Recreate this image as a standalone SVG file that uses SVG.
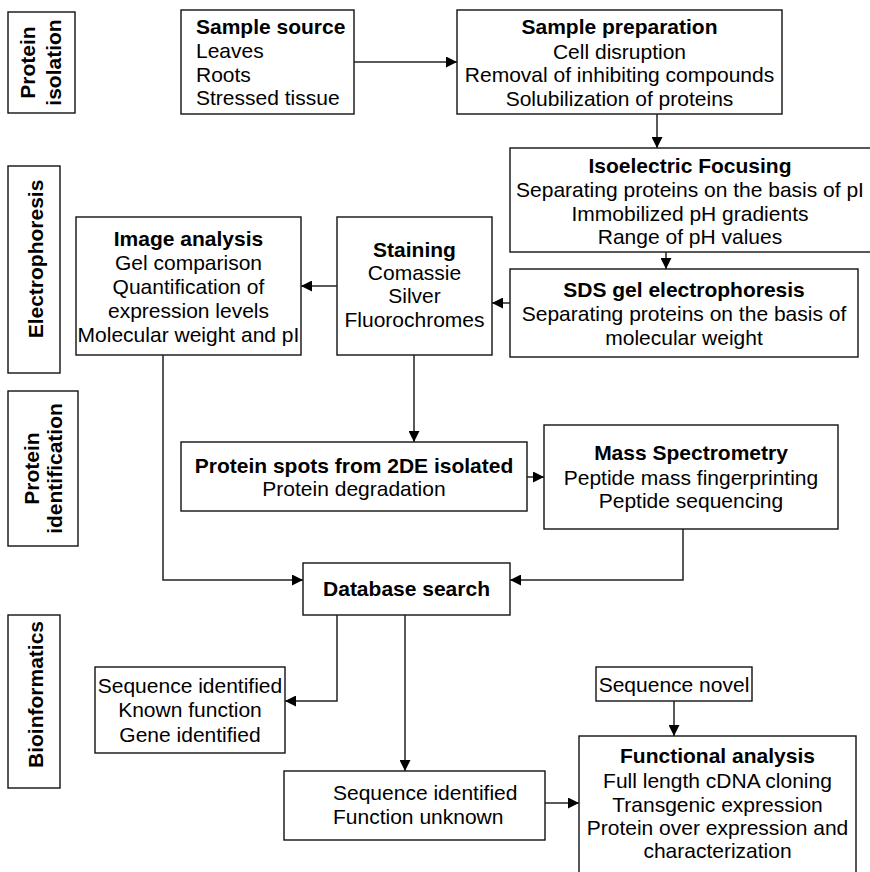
<svg xmlns="http://www.w3.org/2000/svg" width="870" height="872" viewBox="0 0 870 872">
<style>
rect.b{fill:#fff;stroke:#111;stroke-width:1.4}
text{font-family:"Liberation Sans",Arial,sans-serif;font-size:21px;fill:#000}
.h{font-weight:bold}
.c{text-anchor:middle}
.l{fill:none;stroke:#222;stroke-width:1.5}
</style>
<defs>
<marker id="ah" markerUnits="userSpaceOnUse" markerWidth="11" markerHeight="11" refX="11" refY="5.5" orient="auto">
<path d="M0,0 L11,5.5 L0,11 z" fill="#000"/>
</marker>
</defs>
<rect width="870" height="872" fill="#fff"/>

<g id="lbl-isolation">
<rect class="b" x="8" y="12" width="67" height="101"/>
<g transform="translate(0,62.5) rotate(-90)"><text class="h c" x="0" y="35">Protein</text><text class="h c" x="0" y="61">isolation</text></g>
</g>
<g id="lbl-electrophoresis">
<rect class="b" x="8" y="166" width="52" height="207"/>
<g transform="translate(0,259) rotate(-90)"><text class="h c" x="0" y="43">Electrophoresis</text></g>
</g>
<g id="lbl-identification">
<rect class="b" x="8" y="391" width="70" height="155"/>
<g transform="translate(0,468.5) rotate(-90)"><text class="h c" x="0" y="39">Protein</text><text class="h c" x="0" y="62">identification</text></g>
</g>
<g id="lbl-bioinformatics">
<rect class="b" x="8" y="615" width="52" height="173"/>
<g transform="translate(0,694.5) rotate(-90)"><text class="h c" x="0" y="43">Bioinformatics</text></g>
</g>

<g id="sample-source">
<rect class="b" x="181" y="10" width="173" height="104"/>
<text x="196" y="34" class="h">Sample source</text>
<text x="196" y="58">Leaves</text>
<text x="196" y="82">Roots</text>
<text x="196" y="105">Stressed tissue</text>
</g>
<g id="sample-preparation">
<rect class="b" x="457" y="10" width="325" height="104"/>
<text class="h c" x="619.5" y="34">Sample preparation</text>
<text class="c" x="619.5" y="59">Cell disruption</text>
<text class="c" x="619.5" y="82">Removal of inhibiting compounds</text>
<text class="c" x="619.5" y="106">Solubilization of proteins</text>
</g>
<g id="ief">
<rect class="b" x="510" y="148" width="362" height="104"/>
<text class="h c" x="690" y="173">Isoelectric Focusing</text>
<text class="c" x="690" y="197">Separating proteins on the basis of pI</text>
<text class="c" x="690" y="221">Immobilized pH gradients</text>
<text class="c" x="690" y="244">Range of pH values</text>
</g>
<g id="sds">
<rect class="b" x="510" y="269" width="348" height="88"/>
<text class="h c" x="684" y="297">SDS gel electrophoresis</text>
<text class="c" x="684" y="321">Separating proteins on the basis of</text>
<text class="c" x="684" y="345">molecular weight</text>
</g>
<g id="image-analysis">
<rect class="b" x="76" y="217" width="225" height="138"/>
<text class="h c" x="188.5" y="246">Image analysis</text>
<text class="c" x="188.5" y="270">Gel comparison</text>
<text class="c" x="188.5" y="294">Quantification of</text>
<text class="c" x="188.5" y="318">expression levels</text>
<text class="c" x="188.5" y="342">Molecular weight and pI</text>
</g>
<g id="staining">
<rect class="b" x="337" y="217" width="155" height="138"/>
<text class="h c" x="414.5" y="257">Staining</text>
<text class="c" x="414.5" y="280">Comassie</text>
<text class="c" x="414.5" y="303">Silver</text>
<text class="c" x="414.5" y="327">Fluorochromes</text>
</g>
<g id="protein-spots">
<rect class="b" x="181" y="442" width="346" height="69"/>
<text class="h c" x="354" y="473">Protein spots from 2DE isolated</text>
<text class="c" x="354" y="496">Protein degradation</text>
</g>
<g id="mass-spec">
<rect class="b" x="544" y="425" width="294" height="104"/>
<text class="h c" x="691" y="460">Mass Spectrometry</text>
<text class="c" x="691" y="485">Peptide mass fingerprinting</text>
<text class="c" x="691" y="508">Peptide sequencing</text>
</g>
<g id="database-search">
<rect class="b" x="303" y="563" width="207" height="52"/>
<text class="h c" x="406.5" y="596">Database search</text>
</g>
<g id="known-function">
<rect class="b" x="95" y="667" width="190" height="86"/>
<text class="c" x="190" y="693">Sequence identified</text>
<text class="c" x="190" y="717">Known function</text>
<text class="c" x="190" y="742">Gene identified</text>
</g>
<g id="function-unknown">
<rect class="b" x="284" y="771" width="261" height="69"/>
<text x="333" y="800">Sequence identified</text>
<text x="333" y="824">Function unknown</text>
</g>
<g id="sequence-novel">
<rect class="b" x="596" y="667" width="156" height="34"/>
<text class="c" x="674" y="692">Sequence novel</text>
</g>
<g id="functional-analysis">
<rect class="b" x="579" y="736" width="277" height="140"/>
<text class="h c" x="717.5" y="763">Functional analysis</text>
<text class="c" x="717.5" y="788">Full length cDNA cloning</text>
<text class="c" x="717.5" y="812">Transgenic expression</text>
<text class="c" x="717.5" y="835">Protein over expression and</text>
<text class="c" x="717.5" y="858">characterization</text>
</g>

<g id="connectors">
<path class="l" d="M354,62 H457" marker-end="url(#ah)"/>
<path class="l" d="M657,114 V148" marker-end="url(#ah)"/>
<path class="l" d="M666,252 V269" marker-end="url(#ah)"/>
<path class="l" d="M510,303 H492" marker-end="url(#ah)"/>
<path class="l" d="M337,286 H301" marker-end="url(#ah)"/>
<path class="l" d="M414,355 V442" marker-end="url(#ah)"/>
<path class="l" d="M527,477 H544" marker-end="url(#ah)"/>
<path class="l" d="M163,355 V580 H303" marker-end="url(#ah)"/>
<path class="l" d="M683,529 V580 H510" marker-end="url(#ah)"/>
<path class="l" d="M337,615 V701 H285" marker-end="url(#ah)"/>
<path class="l" d="M405,615 V771" marker-end="url(#ah)"/>
<path class="l" d="M674,701 V736" marker-end="url(#ah)"/>
<path class="l" d="M545,803 H579" marker-end="url(#ah)"/>
</g>
</svg>
